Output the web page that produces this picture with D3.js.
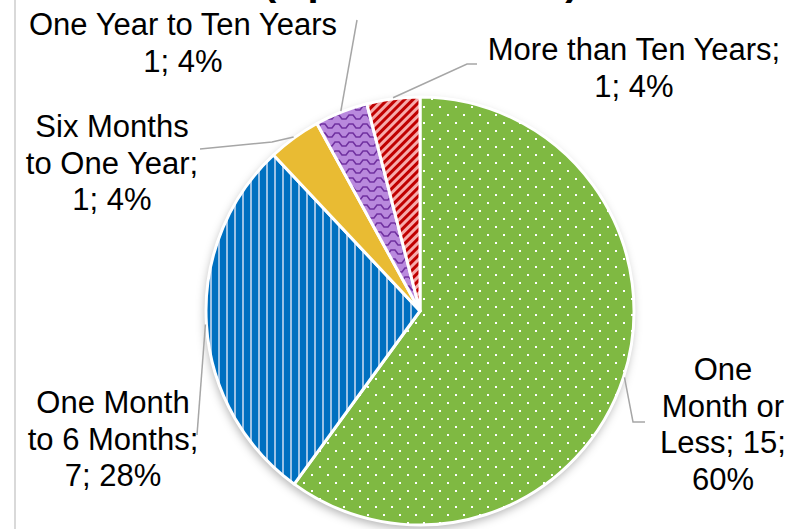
<!DOCTYPE html>
<html>
<head>
<meta charset="utf-8">
<script src="https://cdn.jsdelivr.net/npm/d3@7"></script>
<style>
  body { margin: 0; background: #fff; }
  svg { display: block; font-family: "Liberation Sans", Arial, sans-serif; }
</style>
</head>
<body>
<svg width="791" height="529"></svg>
<script>
const categories = ['One Month or Less', 'One Month to 6 Months', 'Six Months to One Year', 'One Year to Ten Years', 'More than Ten Years'];
const counts = [15, 7, 1, 1, 1];
const labelLines = [
  ['One', 'Month or', 'Less; 15;', '60%'],
  ['One Month', 'to 6 Months;', '7; 28%'],
  ['Six Months', 'to One Year;', '1; 4%'],
  ['One Year to Ten Years', '1; 4%'],
  ['More than Ten Years;', '1; 4%'],
];

// layout (not data)
const cx = 420, cy = 311, radius = 214;
const labelAt = [
  { x: 723, y: 380 },
  { x: 113, y: 413 },
  { x: 112, y: 137 },
  { x: 183, y: 35 },
  { x: 634, y: 60 },
];
const leaderBends = [
  [[633, 422], [645, 422]],
  [[197, 435]],
  [[272, 142], [200, 149]],
  [[357, 20]],
  [[467, 64], [477, 64]],
];
const fills = ['url(#pGreen)', 'url(#pBlue)', '#E9BB33', 'url(#pPurple)', 'url(#pRed)'];

const svg = d3.select('svg');
const defs = svg.append('defs');

// dotted green
const pg = defs.append('pattern').attr('id', 'pGreen')
  .attr('patternUnits', 'userSpaceOnUse').attr('width', 16).attr('height', 16);
pg.append('rect').attr('width', 16).attr('height', 16).attr('fill', '#7FB942');
pg.append('rect').attr('x', 3).attr('y', 3).attr('width', 2).attr('height', 2).attr('fill', '#fff');
pg.append('rect').attr('x', 11).attr('y', 11).attr('width', 2).attr('height', 2).attr('fill', '#fff');

// vertical stripes blue
const pb = defs.append('pattern').attr('id', 'pBlue')
  .attr('patternUnits', 'userSpaceOnUse').attr('width', 8).attr('height', 8);
pb.append('rect').attr('width', 8).attr('height', 8).attr('fill', '#0070C0');
pb.append('rect').attr('x', 6).attr('width', 2).attr('height', 8).attr('fill', '#9DC3E6');

// wave purple
const pp = defs.append('pattern').attr('id', 'pPurple')
  .attr('patternUnits', 'userSpaceOnUse').attr('width', 14).attr('height', 9);
pp.append('rect').attr('width', 14).attr('height', 9).attr('fill', '#B989DD');
pp.append('path').attr('d', 'M0,2 H3 L6,6 H10 L13,2 H14')
  .attr('fill', 'none').attr('stroke', '#7030A0').attr('stroke-width', 1.6);

// diagonal red
const pr = defs.append('pattern').attr('id', 'pRed')
  .attr('patternUnits', 'userSpaceOnUse').attr('width', 6).attr('height', 6)
  .attr('patternTransform', 'rotate(45)');
pr.append('rect').attr('width', 6).attr('height', 6).attr('fill', '#F6ABAB');
pr.append('rect').attr('width', 3).attr('height', 6).attr('fill', '#C00000');

const shadow = defs.append('filter').attr('id', 'shadow')
  .attr('x', '-20%').attr('y', '-20%').attr('width', '140%').attr('height', '140%');
shadow.append('feDropShadow').attr('dx', -1).attr('dy', 4).attr('stdDeviation', 5)
  .attr('flood-color', '#000').attr('flood-opacity', 0.3);

// chart area border on the left
svg.append('line').attr('x1', 15).attr('x2', 15).attr('y1', 0).attr('y2', 529)
  .attr('stroke', '#D9D9D9').attr('stroke-width', 2);

// title, mostly clipped off the top
svg.append('text').attr('x', 263).attr('y', -5)
  .attr('font-size', 40).attr('font-weight', 'bold').attr('fill', '#000')
  .text('(Open Incidents)');

const pie = d3.pie().sort(null).value(d => d)(counts);
const arc = d3.arc().innerRadius(0).outerRadius(radius);

const g = svg.append('g').attr('transform', `translate(${cx},${cy})`);
g.append('circle').attr('r', radius).attr('fill', '#fff').attr('filter', 'url(#shadow)');
g.selectAll('path.slice').data(pie).enter().append('path')
  .attr('class', 'slice')
  .attr('d', arc)
  .attr('fill', (d, i) => fills[i])
  .attr('stroke', '#fff').attr('stroke-width', 3).attr('stroke-linejoin', 'round');

// leader lines
const line = d3.line();
pie.forEach((d, i) => {
  const a = (d.startAngle + d.endAngle) / 2;
  const start = [cx + (radius + 1) * Math.sin(a), cy - (radius + 1) * Math.cos(a)];
  svg.append('path').attr('d', line([start].concat(leaderBends[i])))
    .attr('fill', 'none').attr('stroke', '#A6A6A6').attr('stroke-width', 1.5);
});

// labels
labelLines.forEach((lines, i) => {
  const t = svg.append('text').attr('text-anchor', 'middle')
    .attr('font-size', 31).attr('fill', '#000');
  lines.forEach((s, j) => {
    t.append('tspan').attr('x', labelAt[i].x).attr('y', labelAt[i].y + j * 36.5).text(s);
  });
});
</script>
</body>
</html>
